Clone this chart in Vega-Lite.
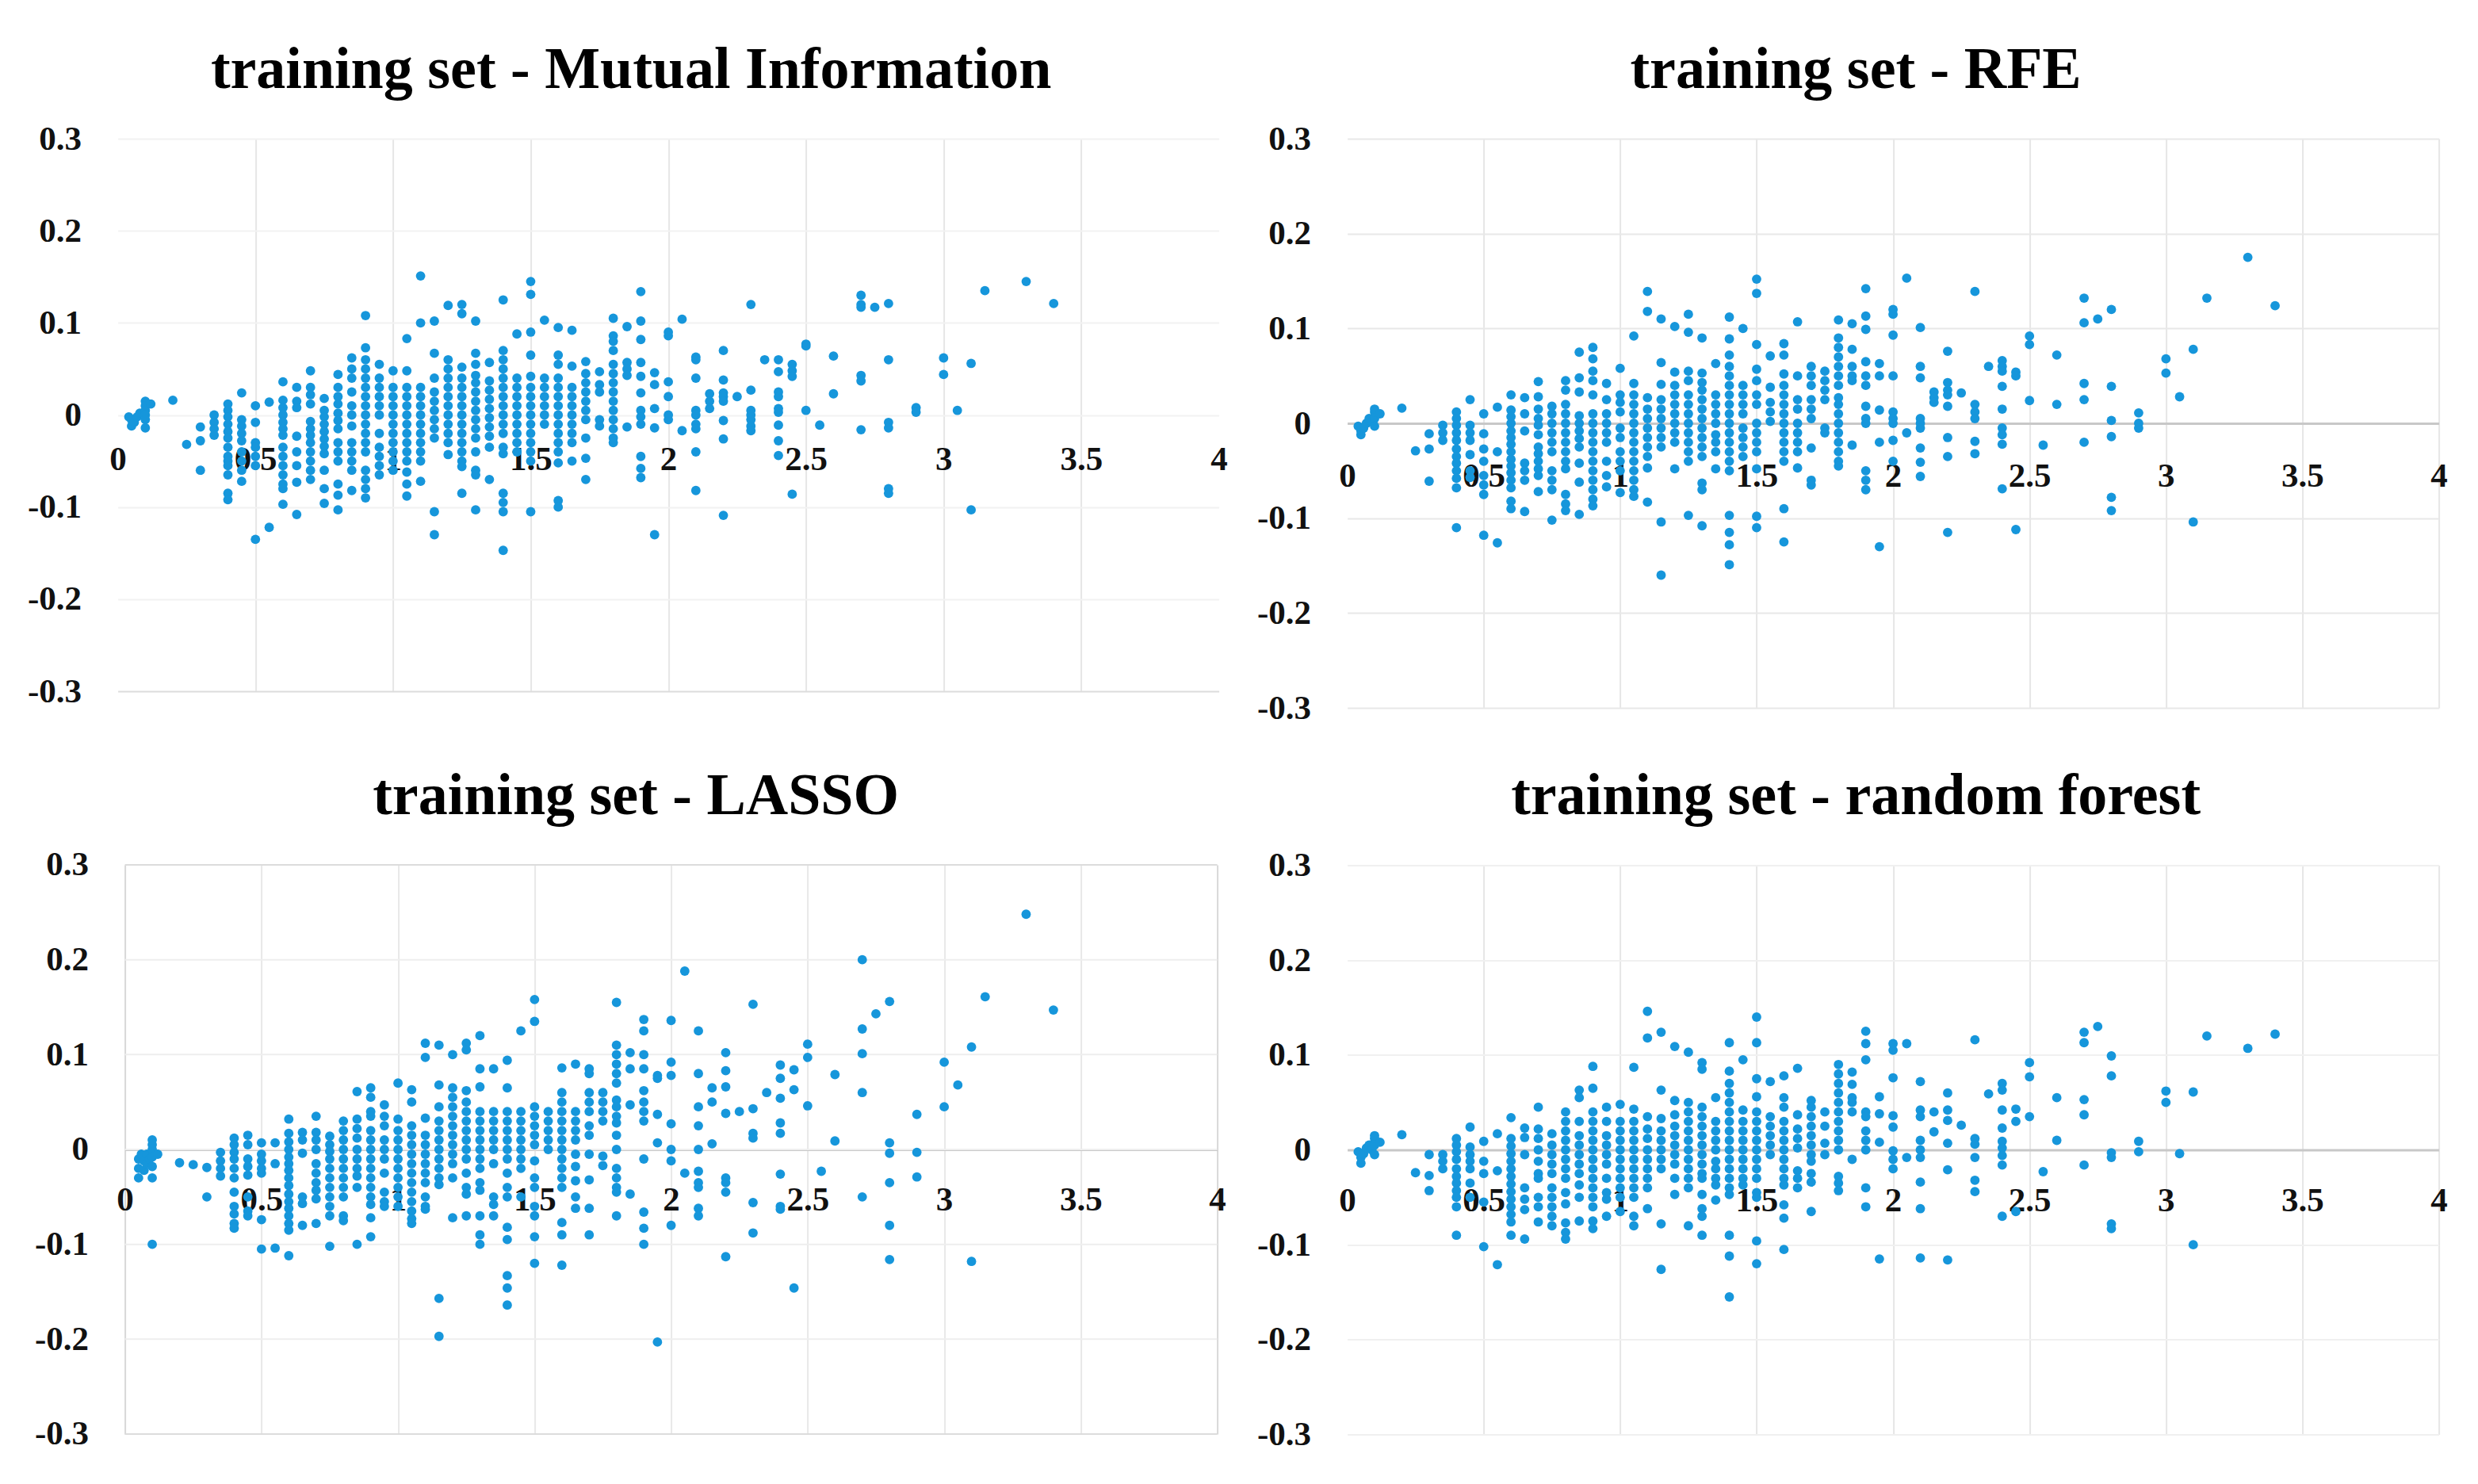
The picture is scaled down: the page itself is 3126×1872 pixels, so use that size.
{"$schema":"https://vega.github.io/schema/vega-lite/v6.json","padding":{"left":33.6,"top":52,"right":0,"bottom":0},"background":"white","spacing":36,"config":{"font":"Liberation Serif","title":{"font":"Liberation Serif","fontWeight":"bold","fontSize":74,"color":"#000","offset":27,"baseline":"alphabetic","dx":-47,"anchor":"middle"},"axis":{"labelFont":"Liberation Serif","labelFontWeight":"bold","labelFontSize":43,"labelColor":"#111","ticks":false,"title":null,"gridColor":"#e8e8e8","gridWidth":2,"labelFlush":false,"labelOverlap":false,"labelExpr":"datum.value<0 ? '-'+format(-datum.value,'~g') : format(datum.value,'~g')"}},
"datasets":{
"levels":[{"y":-0.3},{"y":-0.2},{"y":-0.1},{"y":0},{"y":0.1},{"y":0.2},{"y":0.3}],
"mi":[{"x":0.04,"y":-0.002},{"x":0.05,"y":-0.005},{"x":0.05,"y":-0.012},{"x":0.06,"y":-0.008},{"x":0.07,"y":-0.002},{"x":0.08,"y":0.002},{"x":0.1,"y":0.015},{"x":0.1,"y":0.01},{"x":0.1,"y":0.005},{"x":0.1,"y":0},{"x":0.1,"y":-0.005},{"x":0.1,"y":-0.014},{"x":0.12,"y":0.012},{"x":0.2,"y":0.016},{"x":0.25,"y":-0.032},{"x":0.3,"y":-0.013},{"x":0.3,"y":-0.028},{"x":0.3,"y":-0.06},{"x":0.35,"y":0},{"x":0.35,"y":-0.008},{"x":0.35,"y":-0.015},{"x":0.35,"y":-0.022},
{"x":0.4,"y":0.012},{"x":0.4,"y":0.005},{"x":0.4,"y":-0.002},{"x":0.4,"y":-0.01},{"x":0.4,"y":-0.018},{"x":0.4,"y":-0.025},{"x":0.4,"y":-0.035},{"x":0.4,"y":-0.045},{"x":0.4,"y":-0.05},{"x":0.4,"y":-0.055},{"x":0.4,"y":-0.065},{"x":0.4,"y":-0.085},{"x":0.4,"y":-0.092},
{"x":0.45,"y":0.024},{"x":0.45,"y":-0.005},{"x":0.45,"y":-0.012},{"x":0.45,"y":-0.02},{"x":0.45,"y":-0.028},{"x":0.45,"y":-0.04},{"x":0.45,"y":-0.05},{"x":0.45,"y":-0.06},{"x":0.45,"y":-0.072},
{"x":0.5,"y":0.01},{"x":0.5,"y":-0.008},{"x":0.5,"y":-0.03},{"x":0.5,"y":-0.035},{"x":0.5,"y":-0.045},{"x":0.5,"y":-0.055},{"x":0.5,"y":-0.135},{"x":0.55,"y":0.014},{"x":0.55,"y":-0.122},
{"x":0.6,"y":0.036},{"x":0.6,"y":0.016},{"x":0.6,"y":0.008},{"x":0.6,"y":0},{"x":0.6,"y":-0.008},{"x":0.6,"y":-0.015},{"x":0.6,"y":-0.022},{"x":0.6,"y":-0.035},{"x":0.6,"y":-0.045},{"x":0.6,"y":-0.055},{"x":0.6,"y":-0.065},{"x":0.6,"y":-0.075},{"x":0.6,"y":-0.08},{"x":0.6,"y":-0.097},
{"x":0.65,"y":0.03},{"x":0.65,"y":0.015},{"x":0.65,"y":0.008},{"x":0.65,"y":-0.023},{"x":0.65,"y":-0.04},{"x":0.65,"y":-0.055},{"x":0.65,"y":-0.073},{"x":0.65,"y":-0.108},
{"x":0.7,"y":0.048},{"x":0.7,"y":0.03},{"x":0.7,"y":0.022},{"x":0.7,"y":0.012},{"x":0.7,"y":-0.007},{"x":0.7,"y":-0.015},{"x":0.7,"y":-0.022},{"x":0.7,"y":-0.03},{"x":0.7,"y":-0.04},{"x":0.7,"y":-0.05},{"x":0.7,"y":-0.06},{"x":0.7,"y":-0.07},
{"x":0.75,"y":0.018},{"x":0.75,"y":0.005},{"x":0.75,"y":-0.002},{"x":0.75,"y":-0.01},{"x":0.75,"y":-0.018},{"x":0.75,"y":-0.026},{"x":0.75,"y":-0.034},{"x":0.75,"y":-0.042},{"x":0.75,"y":-0.06},{"x":0.75,"y":-0.08},{"x":0.75,"y":-0.096},
{"x":0.8,"y":0.044},{"x":0.8,"y":0.03},{"x":0.8,"y":0.02},{"x":0.8,"y":0.012},{"x":0.8,"y":0.002},{"x":0.8,"y":-0.006},{"x":0.8,"y":-0.015},{"x":0.8,"y":-0.03},{"x":0.8,"y":-0.04},{"x":0.8,"y":-0.05},{"x":0.8,"y":-0.075},{"x":0.8,"y":-0.087},{"x":0.8,"y":-0.103},
{"x":0.85,"y":0.062},{"x":0.85,"y":0.05},{"x":0.85,"y":0.04},{"x":0.85,"y":0.025},{"x":0.85,"y":0.01},{"x":0.85,"y":0},{"x":0.85,"y":-0.012},{"x":0.85,"y":-0.03},{"x":0.85,"y":-0.04},{"x":0.85,"y":-0.05},{"x":0.85,"y":-0.06},{"x":0.85,"y":-0.082},
{"x":0.9,"y":0.108},{"x":0.9,"y":0.073},{"x":0.9,"y":0.06},{"x":0.9,"y":0.05},{"x":0.9,"y":0.04},{"x":0.9,"y":0.03},{"x":0.9,"y":0.02},{"x":0.9,"y":0.01},{"x":0.9,"y":0},{"x":0.9,"y":-0.01},{"x":0.9,"y":-0.02},{"x":0.9,"y":-0.03},{"x":0.9,"y":-0.04},{"x":0.9,"y":-0.06},{"x":0.9,"y":-0.07},{"x":0.9,"y":-0.08},{"x":0.9,"y":-0.09},
{"x":0.95,"y":0.055},{"x":0.95,"y":0.04},{"x":0.95,"y":0.03},{"x":0.95,"y":0.02},{"x":0.95,"y":0.01},{"x":0.95,"y":0},{"x":0.95,"y":-0.02},{"x":0.95,"y":-0.035},{"x":0.95,"y":-0.045},{"x":0.95,"y":-0.055},{"x":0.95,"y":-0.065},
{"x":1,"y":0.048},{"x":1,"y":0.03},{"x":1,"y":0.02},{"x":1,"y":0.01},{"x":1,"y":0},{"x":1,"y":-0.01},{"x":1,"y":-0.02},{"x":1,"y":-0.03},{"x":1,"y":-0.04},{"x":1,"y":-0.05},{"x":1,"y":-0.06},
{"x":1.05,"y":0.083},{"x":1.05,"y":0.048},{"x":1.05,"y":0.03},{"x":1.05,"y":0.02},{"x":1.05,"y":0.01},{"x":1.05,"y":0},{"x":1.05,"y":-0.01},{"x":1.05,"y":-0.02},{"x":1.05,"y":-0.03},{"x":1.05,"y":-0.04},{"x":1.05,"y":-0.05},{"x":1.05,"y":-0.062},{"x":1.05,"y":-0.075},{"x":1.05,"y":-0.088},
{"x":1.1,"y":0.151},{"x":1.1,"y":0.1},{"x":1.1,"y":0.03},{"x":1.1,"y":0.02},{"x":1.1,"y":0.01},{"x":1.1,"y":0},{"x":1.1,"y":-0.01},{"x":1.1,"y":-0.02},{"x":1.1,"y":-0.03},{"x":1.1,"y":-0.04},{"x":1.1,"y":-0.05},{"x":1.1,"y":-0.072},
{"x":1.15,"y":0.102},{"x":1.15,"y":0.067},{"x":1.15,"y":0.04},{"x":1.15,"y":0.025},{"x":1.15,"y":0.015},{"x":1.15,"y":0.005},{"x":1.15,"y":-0.005},{"x":1.15,"y":-0.015},{"x":1.15,"y":-0.025},{"x":1.15,"y":-0.105},{"x":1.15,"y":-0.13},
{"x":1.2,"y":0.119},{"x":1.2,"y":0.06},{"x":1.2,"y":0.05},{"x":1.2,"y":0.04},{"x":1.2,"y":0.03},{"x":1.2,"y":0.02},{"x":1.2,"y":0.01},{"x":1.2,"y":0},{"x":1.2,"y":-0.01},{"x":1.2,"y":-0.02},{"x":1.2,"y":-0.03},{"x":1.2,"y":-0.043},
{"x":1.25,"y":0.12},{"x":1.25,"y":0.11},{"x":1.25,"y":0.052},{"x":1.25,"y":0.04},{"x":1.25,"y":0.03},{"x":1.25,"y":0.02},{"x":1.25,"y":0.01},{"x":1.25,"y":0},{"x":1.25,"y":-0.01},{"x":1.25,"y":-0.02},{"x":1.25,"y":-0.03},{"x":1.25,"y":-0.04},{"x":1.25,"y":-0.05},{"x":1.25,"y":-0.056},{"x":1.25,"y":-0.085},
{"x":1.3,"y":0.102},{"x":1.3,"y":0.067},{"x":1.3,"y":0.055},{"x":1.3,"y":0.043},{"x":1.3,"y":0.035},{"x":1.3,"y":0.025},{"x":1.3,"y":0.015},{"x":1.3,"y":0.005},{"x":1.3,"y":-0.005},{"x":1.3,"y":-0.015},{"x":1.3,"y":-0.025},{"x":1.3,"y":-0.04},{"x":1.3,"y":-0.06},{"x":1.3,"y":-0.065},{"x":1.3,"y":-0.103},
{"x":1.35,"y":0.057},{"x":1.35,"y":0.037},{"x":1.35,"y":0.027},{"x":1.35,"y":0.017},{"x":1.35,"y":0.007},{"x":1.35,"y":-0.003},{"x":1.35,"y":-0.013},{"x":1.35,"y":-0.023},{"x":1.35,"y":-0.035},{"x":1.35,"y":-0.07},
{"x":1.4,"y":0.125},{"x":1.4,"y":0.07},{"x":1.4,"y":0.06},{"x":1.4,"y":0.05},{"x":1.4,"y":0.04},{"x":1.4,"y":0.03},{"x":1.4,"y":0.02},{"x":1.4,"y":0.01},{"x":1.4,"y":0},{"x":1.4,"y":-0.01},{"x":1.4,"y":-0.02},{"x":1.4,"y":-0.035},{"x":1.4,"y":-0.042},{"x":1.4,"y":-0.085},{"x":1.4,"y":-0.095},{"x":1.4,"y":-0.105},{"x":1.4,"y":-0.147},
{"x":1.45,"y":0.088},{"x":1.45,"y":0.04},{"x":1.45,"y":0.03},{"x":1.45,"y":0.02},{"x":1.45,"y":0.01},{"x":1.45,"y":0},{"x":1.45,"y":-0.01},{"x":1.45,"y":-0.02},{"x":1.45,"y":-0.03},{"x":1.45,"y":-0.04},
{"x":1.5,"y":0.145},{"x":1.5,"y":0.131},{"x":1.5,"y":0.09},{"x":1.5,"y":0.065},{"x":1.5,"y":0.042},{"x":1.5,"y":0.03},{"x":1.5,"y":0.02},{"x":1.5,"y":0.01},{"x":1.5,"y":0},{"x":1.5,"y":-0.01},{"x":1.5,"y":-0.02},{"x":1.5,"y":-0.03},{"x":1.5,"y":-0.04},{"x":1.5,"y":-0.05},{"x":1.5,"y":-0.105},
{"x":1.55,"y":0.103},{"x":1.55,"y":0.04},{"x":1.55,"y":0.03},{"x":1.55,"y":0.02},{"x":1.55,"y":0.01},{"x":1.55,"y":0},{"x":1.55,"y":-0.01},
{"x":1.6,"y":0.095},{"x":1.6,"y":0.065},{"x":1.6,"y":0.055},{"x":1.6,"y":0.04},{"x":1.6,"y":0.03},{"x":1.6,"y":0.02},{"x":1.6,"y":0.01},{"x":1.6,"y":0},{"x":1.6,"y":-0.01},{"x":1.6,"y":-0.02},{"x":1.6,"y":-0.03},{"x":1.6,"y":-0.04},{"x":1.6,"y":-0.052},{"x":1.6,"y":-0.093},{"x":1.6,"y":-0.1},
{"x":1.65,"y":0.092},{"x":1.65,"y":0.053},{"x":1.65,"y":0.03},{"x":1.65,"y":0.02},{"x":1.65,"y":0.01},{"x":1.65,"y":0},{"x":1.65,"y":-0.01},{"x":1.65,"y":-0.02},{"x":1.65,"y":-0.03},{"x":1.65,"y":-0.05},
{"x":1.7,"y":0.058},{"x":1.7,"y":0.045},{"x":1.7,"y":0.035},{"x":1.7,"y":0.025},{"x":1.7,"y":0.015},{"x":1.7,"y":0.005},{"x":1.7,"y":-0.005},{"x":1.7,"y":-0.025},{"x":1.7,"y":-0.047},{"x":1.7,"y":-0.07},
{"x":1.75,"y":0.047},{"x":1.75,"y":0.033},{"x":1.75,"y":0.025},{"x":1.75,"y":-0.005},{"x":1.75,"y":-0.012},
{"x":1.8,"y":0.105},{"x":1.8,"y":0.086},{"x":1.8,"y":0.08},{"x":1.8,"y":0.07},{"x":1.8,"y":0.055},{"x":1.8,"y":0.045},{"x":1.8,"y":0.035},{"x":1.8,"y":0.025},{"x":1.8,"y":0.015},{"x":1.8,"y":0.005},{"x":1.8,"y":-0.005},{"x":1.8,"y":-0.015},{"x":1.8,"y":-0.025},{"x":1.8,"y":-0.03},
{"x":1.85,"y":0.096},{"x":1.85,"y":0.057},{"x":1.85,"y":0.05},{"x":1.85,"y":0.043},{"x":1.85,"y":-0.013},
{"x":1.9,"y":0.134},{"x":1.9,"y":0.102},{"x":1.9,"y":0.082},{"x":1.9,"y":0.057},{"x":1.9,"y":0.042},{"x":1.9,"y":0.024},{"x":1.9,"y":0.005},{"x":1.9,"y":-0.002},{"x":1.9,"y":-0.01},{"x":1.9,"y":-0.045},{"x":1.9,"y":-0.058},{"x":1.9,"y":-0.068},
{"x":1.95,"y":0.046},{"x":1.95,"y":0.033},{"x":1.95,"y":0.007},{"x":1.95,"y":-0.014},{"x":1.95,"y":-0.13},{"x":2,"y":0.09},{"x":2,"y":0.086},{"x":2,"y":0.036},{"x":2,"y":0.02},{"x":2,"y":0},{"x":2,"y":-0.005},{"x":2.05,"y":0.104},{"x":2.05,"y":-0.017},
{"x":2.1,"y":0.063},{"x":2.1,"y":0.06},{"x":2.1,"y":0.04},{"x":2.1,"y":0.005},{"x":2.1,"y":0},{"x":2.1,"y":-0.01},{"x":2.1,"y":-0.015},{"x":2.1,"y":-0.04},{"x":2.1,"y":-0.082},{"x":2.15,"y":0.023},{"x":2.15,"y":0.015},{"x":2.15,"y":0.007},
{"x":2.2,"y":0.07},{"x":2.2,"y":0.038},{"x":2.2,"y":0.024},{"x":2.2,"y":0.02},{"x":2.2,"y":0.015},{"x":2.2,"y":-0.006},{"x":2.2,"y":-0.026},{"x":2.2,"y":-0.109},{"x":2.25,"y":0.02},
{"x":2.3,"y":0.12},{"x":2.3,"y":0.027},{"x":2.3,"y":0.005},{"x":2.3,"y":0},{"x":2.3,"y":-0.005},{"x":2.3,"y":-0.012},{"x":2.3,"y":-0.017},{"x":2.35,"y":0.06},
{"x":2.4,"y":0.06},{"x":2.4,"y":0.047},{"x":2.4,"y":0.025},{"x":2.4,"y":0.02},{"x":2.4,"y":0.007},{"x":2.4,"y":0.003},{"x":2.4,"y":-0.011},{"x":2.4,"y":-0.028},{"x":2.4,"y":-0.044},
{"x":2.45,"y":0.055},{"x":2.45,"y":0.048},{"x":2.45,"y":0.042},{"x":2.45,"y":-0.086},{"x":2.5,"y":0.077},{"x":2.5,"y":0.075},{"x":2.5,"y":0.005},{"x":2.55,"y":-0.011},{"x":2.6,"y":0.064},{"x":2.6,"y":0.023},
{"x":2.7,"y":0.13},{"x":2.7,"y":0.12},{"x":2.7,"y":0.117},{"x":2.7,"y":0.043},{"x":2.7,"y":0.037},{"x":2.7,"y":-0.016},{"x":2.75,"y":0.117},{"x":2.8,"y":0.121},{"x":2.8,"y":0.06},{"x":2.8,"y":-0.008},{"x":2.8,"y":-0.014},{"x":2.8,"y":-0.08},{"x":2.8,"y":-0.085},{"x":2.9,"y":0.008},{"x":2.9,"y":0.003},{"x":3,"y":0.062},{"x":3,"y":0.044},{"x":3.05,"y":0.005},{"x":3.1,"y":0.056},{"x":3.1,"y":-0.103},{"x":3.15,"y":0.135},{"x":3.3,"y":0.145},{"x":3.4,"y":0.121}],
"rfe":[{"x":0.04,"y":-0.003},{"x":0.05,"y":-0.008},{"x":0.05,"y":-0.012},{"x":0.06,"y":-0.005},{"x":0.07,"y":0},{"x":0.08,"y":0.005},{"x":0.09,"y":0.002},{"x":0.1,"y":0.005},{"x":0.1,"y":0.012},{"x":0.1,"y":0.015},{"x":0.12,"y":0.01},{"x":0.1,"y":-0.003},{"x":0.2,"y":0.016},{"x":0.25,"y":-0.029},{"x":0.3,"y":-0.011},{"x":0.3,"y":-0.027},{"x":0.3,"y":-0.061},{"x":0.35,"y":-0.002},{"x":0.35,"y":-0.01},{"x":0.35,"y":-0.018},
{"x":0.4,"y":0.012},{"x":0.4,"y":0.005},{"x":0.4,"y":-0.002},{"x":0.4,"y":-0.01},{"x":0.4,"y":-0.018},{"x":0.4,"y":-0.027},{"x":0.4,"y":-0.035},{"x":0.4,"y":-0.042},{"x":0.4,"y":-0.05},{"x":0.4,"y":-0.058},{"x":0.4,"y":-0.068},{"x":0.4,"y":-0.11},
{"x":0.45,"y":0.025},{"x":0.45,"y":-0.002},{"x":0.45,"y":-0.01},{"x":0.45,"y":-0.018},{"x":0.45,"y":-0.033},{"x":0.45,"y":-0.05},{"x":0.45,"y":-0.057},
{"x":0.5,"y":0.01},{"x":0.5,"y":-0.011},{"x":0.5,"y":-0.027},{"x":0.5,"y":-0.04},{"x":0.5,"y":-0.055},{"x":0.5,"y":-0.065},{"x":0.5,"y":-0.075},{"x":0.5,"y":-0.118},{"x":0.55,"y":0.017},{"x":0.55,"y":-0.03},{"x":0.55,"y":-0.126},
{"x":0.6,"y":0.03},{"x":0.6,"y":0.014},{"x":0.6,"y":0.007},{"x":0.6,"y":0},{"x":0.6,"y":-0.008},{"x":0.6,"y":-0.015},{"x":0.6,"y":-0.022},{"x":0.6,"y":-0.03},{"x":0.6,"y":-0.038},{"x":0.6,"y":-0.045},{"x":0.6,"y":-0.052},{"x":0.6,"y":-0.06},{"x":0.6,"y":-0.068},{"x":0.6,"y":-0.082},{"x":0.6,"y":-0.09},
{"x":0.65,"y":0.027},{"x":0.65,"y":0.01},{"x":0.65,"y":-0.008},{"x":0.65,"y":-0.042},{"x":0.65,"y":-0.05},{"x":0.65,"y":-0.06},{"x":0.65,"y":-0.093},
{"x":0.7,"y":0.044},{"x":0.7,"y":0.028},{"x":0.7,"y":0.015},{"x":0.7,"y":0.005},{"x":0.7,"y":-0.002},{"x":0.7,"y":-0.012},{"x":0.7,"y":-0.025},{"x":0.7,"y":-0.032},{"x":0.7,"y":-0.04},{"x":0.7,"y":-0.048},{"x":0.7,"y":-0.055},{"x":0.7,"y":-0.072},
{"x":0.75,"y":0.018},{"x":0.75,"y":0.01},{"x":0.75,"y":0},{"x":0.75,"y":-0.01},{"x":0.75,"y":-0.02},{"x":0.75,"y":-0.03},{"x":0.75,"y":-0.05},{"x":0.75,"y":-0.06},{"x":0.75,"y":-0.07},{"x":0.75,"y":-0.102},
{"x":0.8,"y":0.045},{"x":0.8,"y":0.035},{"x":0.8,"y":0.02},{"x":0.8,"y":0.01},{"x":0.8,"y":0},{"x":0.8,"y":-0.01},{"x":0.8,"y":-0.02},{"x":0.8,"y":-0.03},{"x":0.8,"y":-0.04},{"x":0.8,"y":-0.048},{"x":0.8,"y":-0.075},{"x":0.8,"y":-0.085},{"x":0.8,"y":-0.092},
{"x":0.85,"y":0.075},{"x":0.85,"y":0.048},{"x":0.85,"y":0.033},{"x":0.85,"y":0.008},{"x":0.85,"y":0},{"x":0.85,"y":-0.008},{"x":0.85,"y":-0.016},{"x":0.85,"y":-0.025},{"x":0.85,"y":-0.042},{"x":0.85,"y":-0.062},{"x":0.85,"y":-0.096},
{"x":0.9,"y":0.08},{"x":0.9,"y":0.068},{"x":0.9,"y":0.055},{"x":0.9,"y":0.045},{"x":0.9,"y":0.03},{"x":0.9,"y":0.01},{"x":0.9,"y":0},{"x":0.9,"y":-0.01},{"x":0.9,"y":-0.02},{"x":0.9,"y":-0.03},{"x":0.9,"y":-0.04},{"x":0.9,"y":-0.05},{"x":0.9,"y":-0.06},{"x":0.9,"y":-0.07},{"x":0.9,"y":-0.08},{"x":0.9,"y":-0.087},
{"x":0.95,"y":0.042},{"x":0.95,"y":0.025},{"x":0.95,"y":0.01},{"x":0.95,"y":0},{"x":0.95,"y":-0.01},{"x":0.95,"y":-0.02},{"x":0.95,"y":-0.04},{"x":0.95,"y":-0.055},{"x":0.95,"y":-0.067},
{"x":1,"y":0.058},{"x":1,"y":0.03},{"x":1,"y":0.022},{"x":1,"y":0.012},{"x":1,"y":-0.005},{"x":1,"y":-0.015},{"x":1,"y":-0.03},{"x":1,"y":-0.04},{"x":1,"y":-0.05},{"x":1,"y":-0.073},
{"x":1.05,"y":0.092},{"x":1.05,"y":0.042},{"x":1.05,"y":0.03},{"x":1.05,"y":0.02},{"x":1.05,"y":0.01},{"x":1.05,"y":0},{"x":1.05,"y":-0.01},{"x":1.05,"y":-0.02},{"x":1.05,"y":-0.03},{"x":1.05,"y":-0.04},{"x":1.05,"y":-0.05},{"x":1.05,"y":-0.06},{"x":1.05,"y":-0.07},{"x":1.05,"y":-0.077},
{"x":1.1,"y":0.139},{"x":1.1,"y":0.118},{"x":1.1,"y":0.027},{"x":1.1,"y":0.015},{"x":1.1,"y":0.005},{"x":1.1,"y":-0.005},{"x":1.1,"y":-0.015},{"x":1.1,"y":-0.025},{"x":1.1,"y":-0.035},{"x":1.1,"y":-0.047},{"x":1.1,"y":-0.083},
{"x":1.15,"y":0.11},{"x":1.15,"y":0.064},{"x":1.15,"y":0.041},{"x":1.15,"y":0.025},{"x":1.15,"y":0.015},{"x":1.15,"y":0.005},{"x":1.15,"y":-0.005},{"x":1.15,"y":-0.015},{"x":1.15,"y":-0.025},{"x":1.15,"y":-0.104},{"x":1.15,"y":-0.16},
{"x":1.2,"y":0.102},{"x":1.2,"y":0.054},{"x":1.2,"y":0.04},{"x":1.2,"y":0.03},{"x":1.2,"y":0.02},{"x":1.2,"y":0.01},{"x":1.2,"y":0},{"x":1.2,"y":-0.01},{"x":1.2,"y":-0.02},{"x":1.2,"y":-0.048},
{"x":1.25,"y":0.115},{"x":1.25,"y":0.096},{"x":1.25,"y":0.055},{"x":1.25,"y":0.045},{"x":1.25,"y":0.03},{"x":1.25,"y":0.02},{"x":1.25,"y":0.01},{"x":1.25,"y":0},{"x":1.25,"y":-0.01},{"x":1.25,"y":-0.02},{"x":1.25,"y":-0.03},{"x":1.25,"y":-0.04},{"x":1.25,"y":-0.097},
{"x":1.3,"y":0.09},{"x":1.3,"y":0.053},{"x":1.3,"y":0.043},{"x":1.3,"y":0.035},{"x":1.3,"y":0.025},{"x":1.3,"y":0.015},{"x":1.3,"y":0.005},{"x":1.3,"y":-0.005},{"x":1.3,"y":-0.015},{"x":1.3,"y":-0.025},{"x":1.3,"y":-0.035},{"x":1.3,"y":-0.063},{"x":1.3,"y":-0.07},{"x":1.3,"y":-0.108},
{"x":1.35,"y":0.063},{"x":1.35,"y":0.03},{"x":1.35,"y":0.02},{"x":1.35,"y":0.01},{"x":1.35,"y":0},{"x":1.35,"y":-0.012},{"x":1.35,"y":-0.02},{"x":1.35,"y":-0.03},{"x":1.35,"y":-0.048},
{"x":1.4,"y":0.112},{"x":1.4,"y":0.089},{"x":1.4,"y":0.072},{"x":1.4,"y":0.06},{"x":1.4,"y":0.05},{"x":1.4,"y":0.04},{"x":1.4,"y":0.03},{"x":1.4,"y":0.02},{"x":1.4,"y":0.01},{"x":1.4,"y":0},{"x":1.4,"y":-0.01},{"x":1.4,"y":-0.02},{"x":1.4,"y":-0.03},{"x":1.4,"y":-0.04},{"x":1.4,"y":-0.05},{"x":1.4,"y":-0.097},{"x":1.4,"y":-0.115},{"x":1.4,"y":-0.128},{"x":1.4,"y":-0.149},
{"x":1.45,"y":0.1},{"x":1.45,"y":0.04},{"x":1.45,"y":0.03},{"x":1.45,"y":0.02},{"x":1.45,"y":0.01},{"x":1.45,"y":-0.005},{"x":1.45,"y":-0.015},{"x":1.45,"y":-0.025},{"x":1.45,"y":-0.035},
{"x":1.5,"y":0.152},{"x":1.5,"y":0.137},{"x":1.5,"y":0.083},{"x":1.5,"y":0.057},{"x":1.5,"y":0.045},{"x":1.5,"y":0.03},{"x":1.5,"y":0.02},{"x":1.5,"y":0},{"x":1.5,"y":-0.01},{"x":1.5,"y":-0.02},{"x":1.5,"y":-0.03},{"x":1.5,"y":-0.048},{"x":1.5,"y":-0.098},{"x":1.5,"y":-0.11},
{"x":1.55,"y":0.071},{"x":1.55,"y":0.038},{"x":1.55,"y":0.022},{"x":1.55,"y":0.012},{"x":1.55,"y":0.002},
{"x":1.6,"y":0.084},{"x":1.6,"y":0.072},{"x":1.6,"y":0.052},{"x":1.6,"y":0.04},{"x":1.6,"y":0.03},{"x":1.6,"y":0.02},{"x":1.6,"y":0.01},{"x":1.6,"y":0},{"x":1.6,"y":-0.01},{"x":1.6,"y":-0.02},{"x":1.6,"y":-0.03},{"x":1.6,"y":-0.04},{"x":1.6,"y":-0.09},{"x":1.6,"y":-0.125},
{"x":1.65,"y":0.107},{"x":1.65,"y":0.05},{"x":1.65,"y":0.025},{"x":1.65,"y":0.015},{"x":1.65,"y":0},{"x":1.65,"y":-0.01},{"x":1.65,"y":-0.02},{"x":1.65,"y":-0.03},{"x":1.65,"y":-0.047},
{"x":1.7,"y":0.06},{"x":1.7,"y":0.05},{"x":1.7,"y":0.04},{"x":1.7,"y":0.025},{"x":1.7,"y":0.015},{"x":1.7,"y":0.005},{"x":1.7,"y":-0.026},{"x":1.7,"y":-0.06},{"x":1.7,"y":-0.065},
{"x":1.75,"y":0.055},{"x":1.75,"y":0.045},{"x":1.75,"y":0.035},{"x":1.75,"y":0.025},{"x":1.75,"y":-0.005},{"x":1.75,"y":-0.01},
{"x":1.8,"y":0.109},{"x":1.8,"y":0.09},{"x":1.8,"y":0.08},{"x":1.8,"y":0.07},{"x":1.8,"y":0.06},{"x":1.8,"y":0.05},{"x":1.8,"y":0.04},{"x":1.8,"y":0.027},{"x":1.8,"y":0.02},{"x":1.8,"y":0.01},{"x":1.8,"y":0},{"x":1.8,"y":-0.01},{"x":1.8,"y":-0.02},{"x":1.8,"y":-0.03},{"x":1.8,"y":-0.04},{"x":1.8,"y":-0.045},
{"x":1.85,"y":0.105},{"x":1.85,"y":0.078},{"x":1.85,"y":0.06},{"x":1.85,"y":0.05},{"x":1.85,"y":0.045},{"x":1.85,"y":-0.023},
{"x":1.9,"y":0.142},{"x":1.9,"y":0.113},{"x":1.9,"y":0.099},{"x":1.9,"y":0.065},{"x":1.9,"y":0.05},{"x":1.9,"y":0.04},{"x":1.9,"y":0.018},{"x":1.9,"y":0.005},{"x":1.9,"y":0},{"x":1.9,"y":-0.05},{"x":1.9,"y":-0.06},{"x":1.9,"y":-0.07},
{"x":1.95,"y":0.063},{"x":1.95,"y":0.05},{"x":1.95,"y":0.014},{"x":1.95,"y":-0.02},{"x":1.95,"y":-0.13},{"x":2,"y":0.12},{"x":2,"y":0.115},{"x":2,"y":0.093},{"x":2,"y":0.05},{"x":2,"y":0.012},{"x":2,"y":0.005},{"x":2,"y":0},{"x":2,"y":-0.018},{"x":2,"y":-0.04},{"x":2.05,"y":0.153},{"x":2.05,"y":-0.01},
{"x":2.1,"y":0.101},{"x":2.1,"y":0.06},{"x":2.1,"y":0.048},{"x":2.1,"y":0.005},{"x":2.1,"y":0},{"x":2.1,"y":-0.005},{"x":2.1,"y":-0.026},{"x":2.1,"y":-0.041},{"x":2.1,"y":-0.056},{"x":2.15,"y":0.033},{"x":2.15,"y":0.027},{"x":2.15,"y":0.022},
{"x":2.2,"y":0.076},{"x":2.2,"y":0.043},{"x":2.2,"y":0.035},{"x":2.2,"y":0.03},{"x":2.2,"y":0.018},{"x":2.2,"y":-0.015},{"x":2.2,"y":-0.035},{"x":2.2,"y":-0.115},{"x":2.25,"y":0.032},
{"x":2.3,"y":0.139},{"x":2.3,"y":0.02},{"x":2.3,"y":0.012},{"x":2.3,"y":0.005},{"x":2.3,"y":-0.019},{"x":2.3,"y":-0.032},{"x":2.35,"y":0.06},
{"x":2.4,"y":0.066},{"x":2.4,"y":0.06},{"x":2.4,"y":0.055},{"x":2.4,"y":0.039},{"x":2.4,"y":0.015},{"x":2.4,"y":-0.005},{"x":2.4,"y":-0.012},{"x":2.4,"y":-0.022},{"x":2.4,"y":-0.069},
{"x":2.45,"y":0.054},{"x":2.45,"y":0.05},{"x":2.45,"y":-0.112},{"x":2.5,"y":0.092},{"x":2.5,"y":0.083},{"x":2.5,"y":0.024},{"x":2.55,"y":-0.023},{"x":2.6,"y":0.072},{"x":2.6,"y":0.02},
{"x":2.7,"y":0.132},{"x":2.7,"y":0.106},{"x":2.7,"y":0.042},{"x":2.7,"y":0.025},{"x":2.7,"y":-0.02},{"x":2.75,"y":0.11},{"x":2.8,"y":0.12},{"x":2.8,"y":0.039},{"x":2.8,"y":0.003},{"x":2.8,"y":-0.014},{"x":2.8,"y":-0.078},{"x":2.8,"y":-0.092},{"x":2.9,"y":0.011},{"x":2.9,"y":0},{"x":2.9,"y":-0.005},{"x":3,"y":0.068},{"x":3,"y":0.053},{"x":3.05,"y":0.028},{"x":3.1,"y":0.078},{"x":3.1,"y":-0.104},{"x":3.15,"y":0.132},{"x":3.3,"y":0.175},{"x":3.4,"y":0.124}],
"lasso":[{"x":0.05,"y":-0.01},{"x":0.05,"y":-0.02},{"x":0.05,"y":-0.03},{"x":0.06,"y":-0.005},{"x":0.07,"y":-0.012},{"x":0.07,"y":-0.022},{"x":0.08,"y":-0.005},{"x":0.08,"y":-0.015},{"x":0.09,"y":-0.01},{"x":0.1,"y":0},{"x":0.1,"y":-0.008},{"x":0.1,"y":-0.018},{"x":0.1,"y":0.005},{"x":0.1,"y":0.01},{"x":0.1,"y":-0.03},{"x":0.12,"y":-0.005},{"x":0.1,"y":-0.1},{"x":0.2,"y":-0.014},{"x":0.25,"y":-0.016},{"x":0.3,"y":-0.019},{"x":0.3,"y":-0.05},{"x":0.35,"y":-0.003},{"x":0.35,"y":-0.012},{"x":0.35,"y":-0.02},{"x":0.35,"y":-0.028},
{"x":0.4,"y":0.012},{"x":0.4,"y":0.005},{"x":0.4,"y":-0.003},{"x":0.4,"y":-0.01},{"x":0.4,"y":-0.02},{"x":0.4,"y":-0.03},{"x":0.4,"y":-0.045},{"x":0.4,"y":-0.06},{"x":0.4,"y":-0.068},{"x":0.4,"y":-0.078},{"x":0.4,"y":-0.083},
{"x":0.45,"y":0.015},{"x":0.45,"y":0.005},{"x":0.45,"y":-0.01},{"x":0.45,"y":-0.018},{"x":0.45,"y":-0.027},{"x":0.45,"y":-0.05},{"x":0.45,"y":-0.065},{"x":0.45,"y":-0.07},
{"x":0.5,"y":0.007},{"x":0.5,"y":-0.005},{"x":0.5,"y":-0.012},{"x":0.5,"y":-0.02},{"x":0.5,"y":-0.025},{"x":0.5,"y":-0.074},{"x":0.5,"y":-0.105},{"x":0.55,"y":0.007},{"x":0.55,"y":-0.015},{"x":0.55,"y":-0.104},
{"x":0.6,"y":0.032},{"x":0.6,"y":0.017},{"x":0.6,"y":0.008},{"x":0.6,"y":0},{"x":0.6,"y":-0.008},{"x":0.6,"y":-0.015},{"x":0.6,"y":-0.022},{"x":0.6,"y":-0.03},{"x":0.6,"y":-0.038},{"x":0.6,"y":-0.047},{"x":0.6,"y":-0.055},{"x":0.6,"y":-0.062},{"x":0.6,"y":-0.07},{"x":0.6,"y":-0.078},{"x":0.6,"y":-0.085},{"x":0.6,"y":-0.112},
{"x":0.65,"y":0.018},{"x":0.65,"y":0.01},{"x":0.65,"y":-0.004},{"x":0.65,"y":-0.05},{"x":0.65,"y":-0.057},{"x":0.65,"y":-0.08},
{"x":0.7,"y":0.035},{"x":0.7,"y":0.018},{"x":0.7,"y":0.01},{"x":0.7,"y":0},{"x":0.7,"y":-0.015},{"x":0.7,"y":-0.025},{"x":0.7,"y":-0.035},{"x":0.7,"y":-0.043},{"x":0.7,"y":-0.052},{"x":0.7,"y":-0.078},
{"x":0.75,"y":0.014},{"x":0.75,"y":0.005},{"x":0.75,"y":-0.002},{"x":0.75,"y":-0.01},{"x":0.75,"y":-0.02},{"x":0.75,"y":-0.03},{"x":0.75,"y":-0.04},{"x":0.75,"y":-0.05},{"x":0.75,"y":-0.06},{"x":0.75,"y":-0.07},{"x":0.75,"y":-0.102},
{"x":0.8,"y":0.03},{"x":0.8,"y":0.02},{"x":0.8,"y":0.01},{"x":0.8,"y":0},{"x":0.8,"y":-0.01},{"x":0.8,"y":-0.02},{"x":0.8,"y":-0.03},{"x":0.8,"y":-0.04},{"x":0.8,"y":-0.05},{"x":0.8,"y":-0.07},{"x":0.8,"y":-0.075},
{"x":0.85,"y":0.061},{"x":0.85,"y":0.032},{"x":0.85,"y":0.022},{"x":0.85,"y":0.012},{"x":0.85,"y":0},{"x":0.85,"y":-0.01},{"x":0.85,"y":-0.02},{"x":0.85,"y":-0.028},{"x":0.85,"y":-0.04},{"x":0.85,"y":-0.1},
{"x":0.9,"y":0.065},{"x":0.9,"y":0.055},{"x":0.9,"y":0.04},{"x":0.9,"y":0.035},{"x":0.9,"y":0.02},{"x":0.9,"y":0.01},{"x":0.9,"y":0},{"x":0.9,"y":-0.01},{"x":0.9,"y":-0.02},{"x":0.9,"y":-0.03},{"x":0.9,"y":-0.04},{"x":0.9,"y":-0.05},{"x":0.9,"y":-0.058},{"x":0.9,"y":-0.072},{"x":0.9,"y":-0.092},
{"x":0.95,"y":0.047},{"x":0.95,"y":0.035},{"x":0.95,"y":0.025},{"x":0.95,"y":0.01},{"x":0.95,"y":0},{"x":0.95,"y":-0.01},{"x":0.95,"y":-0.025},{"x":0.95,"y":-0.045},{"x":0.95,"y":-0.055},{"x":0.95,"y":-0.06},
{"x":1,"y":0.07},{"x":1,"y":0.032},{"x":1,"y":0.02},{"x":1,"y":0.01},{"x":1,"y":0},{"x":1,"y":-0.01},{"x":1,"y":-0.02},{"x":1,"y":-0.03},{"x":1,"y":-0.04},{"x":1,"y":-0.05},{"x":1,"y":-0.06},
{"x":1.05,"y":0.063},{"x":1.05,"y":0.05},{"x":1.05,"y":0.025},{"x":1.05,"y":0.015},{"x":1.05,"y":0.005},{"x":1.05,"y":-0.005},{"x":1.05,"y":-0.015},{"x":1.05,"y":-0.025},{"x":1.05,"y":-0.035},{"x":1.05,"y":-0.045},{"x":1.05,"y":-0.055},{"x":1.05,"y":-0.065},{"x":1.05,"y":-0.073},{"x":1.05,"y":-0.078},
{"x":1.1,"y":0.112},{"x":1.1,"y":0.097},{"x":1.1,"y":0.033},{"x":1.1,"y":0.015},{"x":1.1,"y":0.005},{"x":1.1,"y":-0.005},{"x":1.1,"y":-0.015},{"x":1.1,"y":-0.025},{"x":1.1,"y":-0.035},{"x":1.1,"y":-0.05},{"x":1.1,"y":-0.06},{"x":1.1,"y":-0.063},
{"x":1.15,"y":0.11},{"x":1.15,"y":0.068},{"x":1.15,"y":0.045},{"x":1.15,"y":0.03},{"x":1.15,"y":0.02},{"x":1.15,"y":0.01},{"x":1.15,"y":0},{"x":1.15,"y":-0.01},{"x":1.15,"y":-0.02},{"x":1.15,"y":-0.03},{"x":1.15,"y":-0.037},{"x":1.15,"y":-0.157},{"x":1.15,"y":-0.197},
{"x":1.2,"y":0.1},{"x":1.2,"y":0.065},{"x":1.2,"y":0.055},{"x":1.2,"y":0.045},{"x":1.2,"y":0.035},{"x":1.2,"y":0.025},{"x":1.2,"y":0.015},{"x":1.2,"y":0.005},{"x":1.2,"y":-0.005},{"x":1.2,"y":-0.015},{"x":1.2,"y":-0.03},{"x":1.2,"y":-0.072},
{"x":1.25,"y":0.112},{"x":1.25,"y":0.105},{"x":1.25,"y":0.062},{"x":1.25,"y":0.05},{"x":1.25,"y":0.04},{"x":1.25,"y":0.03},{"x":1.25,"y":0.02},{"x":1.25,"y":0.01},{"x":1.25,"y":0},{"x":1.25,"y":-0.01},{"x":1.25,"y":-0.025},{"x":1.25,"y":-0.04},{"x":1.25,"y":-0.047},{"x":1.25,"y":-0.07},
{"x":1.3,"y":0.12},{"x":1.3,"y":0.085},{"x":1.3,"y":0.066},{"x":1.3,"y":0.04},{"x":1.3,"y":0.03},{"x":1.3,"y":0.02},{"x":1.3,"y":0.01},{"x":1.3,"y":0},{"x":1.3,"y":-0.01},{"x":1.3,"y":-0.02},{"x":1.3,"y":-0.035},{"x":1.3,"y":-0.043},{"x":1.3,"y":-0.07},{"x":1.3,"y":-0.09},{"x":1.3,"y":-0.1},
{"x":1.35,"y":0.085},{"x":1.35,"y":0.04},{"x":1.35,"y":0.03},{"x":1.35,"y":0.02},{"x":1.35,"y":0.01},{"x":1.35,"y":0},{"x":1.35,"y":-0.015},{"x":1.35,"y":-0.05},{"x":1.35,"y":-0.058},{"x":1.35,"y":-0.07},
{"x":1.4,"y":0.094},{"x":1.4,"y":0.065},{"x":1.4,"y":0.04},{"x":1.4,"y":0.03},{"x":1.4,"y":0.02},{"x":1.4,"y":0.01},{"x":1.4,"y":0},{"x":1.4,"y":-0.01},{"x":1.4,"y":-0.025},{"x":1.4,"y":-0.04},{"x":1.4,"y":-0.05},{"x":1.4,"y":-0.082},{"x":1.4,"y":-0.095},{"x":1.4,"y":-0.133},{"x":1.4,"y":-0.146},{"x":1.4,"y":-0.164},
{"x":1.45,"y":0.125},{"x":1.45,"y":0.04},{"x":1.45,"y":0.03},{"x":1.45,"y":0.02},{"x":1.45,"y":0.01},{"x":1.45,"y":0},{"x":1.45,"y":-0.01},{"x":1.45,"y":-0.02},{"x":1.45,"y":-0.05},
{"x":1.5,"y":0.158},{"x":1.5,"y":0.135},{"x":1.5,"y":0.045},{"x":1.5,"y":0.035},{"x":1.5,"y":0.025},{"x":1.5,"y":0.015},{"x":1.5,"y":0.005},{"x":1.5,"y":-0.012},{"x":1.5,"y":-0.03},{"x":1.5,"y":-0.04},{"x":1.5,"y":-0.06},{"x":1.5,"y":-0.07},{"x":1.5,"y":-0.092},{"x":1.5,"y":-0.12},
{"x":1.55,"y":0.04},{"x":1.55,"y":0.03},{"x":1.55,"y":0.02},{"x":1.55,"y":0.01},{"x":1.55,"y":0},
{"x":1.6,"y":0.086},{"x":1.6,"y":0.06},{"x":1.6,"y":0.05},{"x":1.6,"y":0.04},{"x":1.6,"y":0.03},{"x":1.6,"y":0.02},{"x":1.6,"y":0.01},{"x":1.6,"y":0},{"x":1.6,"y":-0.01},{"x":1.6,"y":-0.02},{"x":1.6,"y":-0.03},{"x":1.6,"y":-0.04},{"x":1.6,"y":-0.077},{"x":1.6,"y":-0.09},{"x":1.6,"y":-0.122},
{"x":1.65,"y":0.09},{"x":1.65,"y":0.04},{"x":1.65,"y":0.03},{"x":1.65,"y":0.02},{"x":1.65,"y":0.01},{"x":1.65,"y":-0.005},{"x":1.65,"y":-0.018},{"x":1.65,"y":-0.033},{"x":1.65,"y":-0.05},{"x":1.65,"y":-0.062},
{"x":1.7,"y":0.085},{"x":1.7,"y":0.08},{"x":1.7,"y":0.06},{"x":1.7,"y":0.05},{"x":1.7,"y":0.04},{"x":1.7,"y":0.025},{"x":1.7,"y":0.015},{"x":1.7,"y":-0.005},{"x":1.7,"y":-0.032},{"x":1.7,"y":-0.062},{"x":1.7,"y":-0.09},
{"x":1.75,"y":0.06},{"x":1.75,"y":0.05},{"x":1.75,"y":0.04},{"x":1.75,"y":0.03},{"x":1.75,"y":-0.007},{"x":1.75,"y":-0.017},
{"x":1.8,"y":0.155},{"x":1.8,"y":0.11},{"x":1.8,"y":0.1},{"x":1.8,"y":0.09},{"x":1.8,"y":0.08},{"x":1.8,"y":0.07},{"x":1.8,"y":0.052},{"x":1.8,"y":0.045},{"x":1.8,"y":0.035},{"x":1.8,"y":0.028},{"x":1.8,"y":0.015},{"x":1.8,"y":0},{"x":1.8,"y":-0.02},{"x":1.8,"y":-0.03},{"x":1.8,"y":-0.04},{"x":1.8,"y":-0.045},{"x":1.8,"y":-0.07},
{"x":1.85,"y":0.102},{"x":1.85,"y":0.085},{"x":1.85,"y":0.047},{"x":1.85,"y":-0.047},
{"x":1.9,"y":0.137},{"x":1.9,"y":0.125},{"x":1.9,"y":0.1},{"x":1.9,"y":0.085},{"x":1.9,"y":0.062},{"x":1.9,"y":0.05},{"x":1.9,"y":0.04},{"x":1.9,"y":0.03},{"x":1.9,"y":-0.01},{"x":1.9,"y":-0.066},{"x":1.9,"y":-0.083},{"x":1.9,"y":-0.1},
{"x":1.95,"y":0.078},{"x":1.95,"y":0.075},{"x":1.95,"y":0.037},{"x":1.95,"y":0.007},{"x":1.95,"y":-0.203},{"x":2,"y":0.136},{"x":2,"y":0.092},{"x":2,"y":0.078},{"x":2,"y":0.027},{"x":2,"y":0},{"x":2,"y":-0.012},{"x":2,"y":-0.08},{"x":2.05,"y":0.188},{"x":2.05,"y":-0.025},
{"x":2.1,"y":0.125},{"x":2.1,"y":0.08},{"x":2.1,"y":0.045},{"x":2.1,"y":0.025},{"x":2.1,"y":0},{"x":2.1,"y":-0.023},{"x":2.1,"y":-0.035},{"x":2.1,"y":-0.04},{"x":2.1,"y":-0.062},{"x":2.1,"y":-0.07},{"x":2.15,"y":0.065},{"x":2.15,"y":0.05},{"x":2.15,"y":0.006},
{"x":2.2,"y":0.102},{"x":2.2,"y":0.083},{"x":2.2,"y":0.066},{"x":2.2,"y":0.038},{"x":2.2,"y":-0.03},{"x":2.2,"y":-0.035},{"x":2.2,"y":-0.045},{"x":2.2,"y":-0.113},{"x":2.25,"y":0.04},
{"x":2.3,"y":0.153},{"x":2.3,"y":0.043},{"x":2.3,"y":0.017},{"x":2.3,"y":0.012},{"x":2.3,"y":-0.056},{"x":2.3,"y":-0.088},{"x":2.35,"y":0.06},
{"x":2.4,"y":0.089},{"x":2.4,"y":0.075},{"x":2.4,"y":0.054},{"x":2.4,"y":0.028},{"x":2.4,"y":0.017},{"x":2.4,"y":-0.026},{"x":2.4,"y":-0.06},{"x":2.4,"y":-0.063},
{"x":2.45,"y":0.084},{"x":2.45,"y":0.063},{"x":2.45,"y":-0.146},{"x":2.5,"y":0.111},{"x":2.5,"y":0.097},{"x":2.5,"y":0.046},{"x":2.55,"y":-0.023},{"x":2.6,"y":0.079},{"x":2.6,"y":0.009},
{"x":2.7,"y":0.2},{"x":2.7,"y":0.127},{"x":2.7,"y":0.101},{"x":2.7,"y":0.06},{"x":2.7,"y":-0.05},{"x":2.75,"y":0.143},{"x":2.8,"y":0.156},{"x":2.8,"y":0.007},{"x":2.8,"y":-0.004},{"x":2.8,"y":-0.035},{"x":2.8,"y":-0.08},{"x":2.8,"y":-0.116},{"x":2.9,"y":0.037},{"x":2.9,"y":-0.003},{"x":2.9,"y":-0.029},{"x":3,"y":0.092},{"x":3,"y":0.045},{"x":3.05,"y":0.068},{"x":3.1,"y":0.108},{"x":3.1,"y":-0.118},{"x":3.15,"y":0.161},{"x":3.3,"y":0.248},{"x":3.4,"y":0.147}],
"rf":[{"x":0.04,"y":-0.002},{"x":0.05,"y":-0.008},{"x":0.05,"y":-0.014},{"x":0.06,"y":-0.004},{"x":0.07,"y":0.002},{"x":0.08,"y":0.005},{"x":0.09,"y":0},{"x":0.1,"y":0.005},{"x":0.1,"y":0.012},{"x":0.1,"y":0.015},{"x":0.12,"y":0.008},{"x":0.1,"y":-0.005},{"x":0.2,"y":0.016},{"x":0.25,"y":-0.024},{"x":0.3,"y":-0.005},{"x":0.3,"y":-0.027},{"x":0.3,"y":-0.043},{"x":0.35,"y":-0.005},{"x":0.35,"y":-0.012},{"x":0.35,"y":-0.02},
{"x":0.4,"y":0.012},{"x":0.4,"y":0.005},{"x":0.4,"y":-0.002},{"x":0.4,"y":-0.01},{"x":0.4,"y":-0.02},{"x":0.4,"y":-0.028},{"x":0.4,"y":-0.035},{"x":0.4,"y":-0.043},{"x":0.4,"y":-0.05},{"x":0.4,"y":-0.06},{"x":0.4,"y":-0.09},
{"x":0.45,"y":0.024},{"x":0.45,"y":0.003},{"x":0.45,"y":-0.005},{"x":0.45,"y":-0.012},{"x":0.45,"y":-0.02},{"x":0.45,"y":-0.035},{"x":0.45,"y":-0.05},
{"x":0.5,"y":0.009},{"x":0.5,"y":-0.012},{"x":0.5,"y":-0.025},{"x":0.5,"y":-0.055},{"x":0.5,"y":-0.102},{"x":0.55,"y":0.017},{"x":0.55,"y":-0.022},{"x":0.55,"y":-0.121},
{"x":0.6,"y":0.034},{"x":0.6,"y":0.012},{"x":0.6,"y":0.004},{"x":0.6,"y":-0.004},{"x":0.6,"y":-0.012},{"x":0.6,"y":-0.02},{"x":0.6,"y":-0.028},{"x":0.6,"y":-0.036},{"x":0.6,"y":-0.044},{"x":0.6,"y":-0.052},{"x":0.6,"y":-0.06},{"x":0.6,"y":-0.068},{"x":0.6,"y":-0.076},{"x":0.6,"y":-0.09},
{"x":0.65,"y":0.023},{"x":0.65,"y":0.013},{"x":0.65,"y":-0.005},{"x":0.65,"y":-0.04},{"x":0.65,"y":-0.052},{"x":0.65,"y":-0.063},{"x":0.65,"y":-0.094},
{"x":0.7,"y":0.045},{"x":0.7,"y":0.022},{"x":0.7,"y":0.012},{"x":0.7,"y":0},{"x":0.7,"y":-0.012},{"x":0.7,"y":-0.025},{"x":0.7,"y":-0.03},{"x":0.7,"y":-0.05},{"x":0.7,"y":-0.06},{"x":0.7,"y":-0.076},
{"x":0.75,"y":0.017},{"x":0.75,"y":0.005},{"x":0.75,"y":-0.005},{"x":0.75,"y":-0.015},{"x":0.75,"y":-0.025},{"x":0.75,"y":-0.04},{"x":0.75,"y":-0.05},{"x":0.75,"y":-0.06},{"x":0.75,"y":-0.07},{"x":0.75,"y":-0.08},
{"x":0.8,"y":0.04},{"x":0.8,"y":0.03},{"x":0.8,"y":0.02},{"x":0.8,"y":0.01},{"x":0.8,"y":0},{"x":0.8,"y":-0.01},{"x":0.8,"y":-0.02},{"x":0.8,"y":-0.03},{"x":0.8,"y":-0.045},{"x":0.8,"y":-0.057},{"x":0.8,"y":-0.077},{"x":0.8,"y":-0.087},{"x":0.8,"y":-0.094},
{"x":0.85,"y":0.063},{"x":0.85,"y":0.055},{"x":0.85,"y":0.03},{"x":0.85,"y":0.015},{"x":0.85,"y":0.005},{"x":0.85,"y":-0.005},{"x":0.85,"y":-0.015},{"x":0.85,"y":-0.025},{"x":0.85,"y":-0.037},{"x":0.85,"y":-0.05},{"x":0.85,"y":-0.075},
{"x":0.9,"y":0.088},{"x":0.9,"y":0.065},{"x":0.9,"y":0.04},{"x":0.9,"y":0.03},{"x":0.9,"y":0.02},{"x":0.9,"y":0.01},{"x":0.9,"y":0},{"x":0.9,"y":-0.01},{"x":0.9,"y":-0.02},{"x":0.9,"y":-0.03},{"x":0.9,"y":-0.04},{"x":0.9,"y":-0.05},{"x":0.9,"y":-0.06},{"x":0.9,"y":-0.075},{"x":0.9,"y":-0.083},
{"x":0.95,"y":0.045},{"x":0.95,"y":0.03},{"x":0.95,"y":0.015},{"x":0.95,"y":0.005},{"x":0.95,"y":-0.005},{"x":0.95,"y":-0.015},{"x":0.95,"y":-0.03},{"x":0.95,"y":-0.045},{"x":0.95,"y":-0.052},{"x":0.95,"y":-0.07},
{"x":1,"y":0.048},{"x":1,"y":0.03},{"x":1,"y":0.02},{"x":1,"y":0.01},{"x":1,"y":0},{"x":1,"y":-0.01},{"x":1,"y":-0.02},{"x":1,"y":-0.03},{"x":1,"y":-0.04},{"x":1,"y":-0.05},{"x":1,"y":-0.065},
{"x":1.05,"y":0.087},{"x":1.05,"y":0.043},{"x":1.05,"y":0.03},{"x":1.05,"y":0.02},{"x":1.05,"y":0.01},{"x":1.05,"y":0},{"x":1.05,"y":-0.01},{"x":1.05,"y":-0.02},{"x":1.05,"y":-0.03},{"x":1.05,"y":-0.04},{"x":1.05,"y":-0.05},{"x":1.05,"y":-0.07},{"x":1.05,"y":-0.08},
{"x":1.1,"y":0.146},{"x":1.1,"y":0.118},{"x":1.1,"y":0.035},{"x":1.1,"y":0.022},{"x":1.1,"y":0.012},{"x":1.1,"y":0},{"x":1.1,"y":-0.01},{"x":1.1,"y":-0.02},{"x":1.1,"y":-0.03},{"x":1.1,"y":-0.04},{"x":1.1,"y":-0.062},
{"x":1.15,"y":0.124},{"x":1.15,"y":0.063},{"x":1.15,"y":0.033},{"x":1.15,"y":0.02},{"x":1.15,"y":0.01},{"x":1.15,"y":0},{"x":1.15,"y":-0.01},{"x":1.15,"y":-0.02},{"x":1.15,"y":-0.078},{"x":1.15,"y":-0.126},
{"x":1.2,"y":0.109},{"x":1.2,"y":0.052},{"x":1.2,"y":0.037},{"x":1.2,"y":0.025},{"x":1.2,"y":0.015},{"x":1.2,"y":0.005},{"x":1.2,"y":-0.005},{"x":1.2,"y":-0.015},{"x":1.2,"y":-0.03},{"x":1.2,"y":-0.047},
{"x":1.25,"y":0.103},{"x":1.25,"y":0.05},{"x":1.25,"y":0.04},{"x":1.25,"y":0.03},{"x":1.25,"y":0.02},{"x":1.25,"y":0.01},{"x":1.25,"y":0},{"x":1.25,"y":-0.01},{"x":1.25,"y":-0.02},{"x":1.25,"y":-0.03},{"x":1.25,"y":-0.04},{"x":1.25,"y":-0.08},
{"x":1.3,"y":0.092},{"x":1.3,"y":0.085},{"x":1.3,"y":0.045},{"x":1.3,"y":0.035},{"x":1.3,"y":0.025},{"x":1.3,"y":0.015},{"x":1.3,"y":0.005},{"x":1.3,"y":-0.005},{"x":1.3,"y":-0.015},{"x":1.3,"y":-0.025},{"x":1.3,"y":-0.03},{"x":1.3,"y":-0.047},{"x":1.3,"y":-0.062},{"x":1.3,"y":-0.07},{"x":1.3,"y":-0.09},
{"x":1.35,"y":0.055},{"x":1.35,"y":0.03},{"x":1.35,"y":0.02},{"x":1.35,"y":0.01},{"x":1.35,"y":0},{"x":1.35,"y":-0.012},{"x":1.35,"y":-0.02},{"x":1.35,"y":-0.03},{"x":1.35,"y":-0.037},{"x":1.35,"y":-0.053},
{"x":1.4,"y":0.113},{"x":1.4,"y":0.083},{"x":1.4,"y":0.07},{"x":1.4,"y":0.06},{"x":1.4,"y":0.05},{"x":1.4,"y":0.04},{"x":1.4,"y":0.03},{"x":1.4,"y":0.02},{"x":1.4,"y":0.01},{"x":1.4,"y":0},{"x":1.4,"y":-0.01},{"x":1.4,"y":-0.02},{"x":1.4,"y":-0.03},{"x":1.4,"y":-0.04},{"x":1.4,"y":-0.047},{"x":1.4,"y":-0.09},{"x":1.4,"y":-0.112},{"x":1.4,"y":-0.155},
{"x":1.45,"y":0.095},{"x":1.45,"y":0.042},{"x":1.45,"y":0.03},{"x":1.45,"y":0.02},{"x":1.45,"y":0.01},{"x":1.45,"y":0},{"x":1.45,"y":-0.01},{"x":1.45,"y":-0.02},{"x":1.45,"y":-0.03},{"x":1.45,"y":-0.037},
{"x":1.5,"y":0.14},{"x":1.5,"y":0.113},{"x":1.5,"y":0.075},{"x":1.5,"y":0.056},{"x":1.5,"y":0.04},{"x":1.5,"y":0.03},{"x":1.5,"y":0.02},{"x":1.5,"y":0.01},{"x":1.5,"y":0},{"x":1.5,"y":-0.01},{"x":1.5,"y":-0.02},{"x":1.5,"y":-0.03},{"x":1.5,"y":-0.045},{"x":1.5,"y":-0.05},{"x":1.5,"y":-0.096},{"x":1.5,"y":-0.12},
{"x":1.55,"y":0.072},{"x":1.55,"y":0.035},{"x":1.55,"y":0.025},{"x":1.55,"y":0.015},{"x":1.55,"y":0.005},{"x":1.55,"y":-0.005},
{"x":1.6,"y":0.078},{"x":1.6,"y":0.055},{"x":1.6,"y":0.045},{"x":1.6,"y":0.03},{"x":1.6,"y":0.02},{"x":1.6,"y":0.01},{"x":1.6,"y":0},{"x":1.6,"y":-0.01},{"x":1.6,"y":-0.02},{"x":1.6,"y":-0.03},{"x":1.6,"y":-0.037},{"x":1.6,"y":-0.058},{"x":1.6,"y":-0.072},{"x":1.6,"y":-0.105},
{"x":1.65,"y":0.086},{"x":1.65,"y":0.037},{"x":1.65,"y":0.022},{"x":1.65,"y":0.012},{"x":1.65,"y":0.002},{"x":1.65,"y":-0.022},{"x":1.65,"y":-0.03},{"x":1.65,"y":-0.04},
{"x":1.7,"y":0.052},{"x":1.7,"y":0.045},{"x":1.7,"y":0.035},{"x":1.7,"y":0.025},{"x":1.7,"y":0.015},{"x":1.7,"y":0.005},{"x":1.7,"y":-0.005},{"x":1.7,"y":-0.012},{"x":1.7,"y":-0.025},{"x":1.7,"y":-0.034},{"x":1.7,"y":-0.065},
{"x":1.75,"y":0.04},{"x":1.75,"y":0.025},{"x":1.75,"y":0.007},{"x":1.75,"y":-0.005},
{"x":1.8,"y":0.09},{"x":1.8,"y":0.08},{"x":1.8,"y":0.07},{"x":1.8,"y":0.06},{"x":1.8,"y":0.05},{"x":1.8,"y":0.04},{"x":1.8,"y":0.03},{"x":1.8,"y":0.02},{"x":1.8,"y":0.01},{"x":1.8,"y":0},{"x":1.8,"y":-0.028},{"x":1.8,"y":-0.035},{"x":1.8,"y":-0.043},
{"x":1.85,"y":0.082},{"x":1.85,"y":0.069},{"x":1.85,"y":0.055},{"x":1.85,"y":0.05},{"x":1.85,"y":0.04},{"x":1.85,"y":-0.01},
{"x":1.9,"y":0.125},{"x":1.9,"y":0.112},{"x":1.9,"y":0.095},{"x":1.9,"y":0.04},{"x":1.9,"y":0.035},{"x":1.9,"y":0.02},{"x":1.9,"y":0.01},{"x":1.9,"y":0},{"x":1.9,"y":-0.04},{"x":1.9,"y":-0.06},
{"x":1.95,"y":0.056},{"x":1.95,"y":0.038},{"x":1.95,"y":0.008},{"x":1.95,"y":-0.115},{"x":2,"y":0.112},{"x":2,"y":0.105},{"x":2,"y":0.076},{"x":2,"y":0.036},{"x":2,"y":0.024},{"x":2,"y":-0.001},{"x":2,"y":-0.01},{"x":2,"y":-0.02},{"x":2.05,"y":0.112},{"x":2.05,"y":-0.008},
{"x":2.1,"y":0.072},{"x":2.1,"y":0.042},{"x":2.1,"y":0.035},{"x":2.1,"y":0.01},{"x":2.1,"y":0},{"x":2.1,"y":-0.008},{"x":2.1,"y":-0.034},{"x":2.1,"y":-0.062},{"x":2.1,"y":-0.114},{"x":2.15,"y":0.04},{"x":2.15,"y":0.019},
{"x":2.2,"y":0.06},{"x":2.2,"y":0.042},{"x":2.2,"y":0.031},{"x":2.2,"y":0.007},{"x":2.2,"y":-0.021},{"x":2.2,"y":-0.116},{"x":2.25,"y":0.026},
{"x":2.3,"y":0.116},{"x":2.3,"y":0.012},{"x":2.3,"y":0.006},{"x":2.3,"y":-0.008},{"x":2.3,"y":-0.032},{"x":2.3,"y":-0.044},{"x":2.35,"y":0.059},
{"x":2.4,"y":0.07},{"x":2.4,"y":0.063},{"x":2.4,"y":0.042},{"x":2.4,"y":0.023},{"x":2.4,"y":0.009},{"x":2.4,"y":0.002},{"x":2.4,"y":-0.006},{"x":2.4,"y":-0.016},{"x":2.4,"y":-0.07},
{"x":2.45,"y":0.043},{"x":2.45,"y":0.03},{"x":2.45,"y":-0.065},{"x":2.5,"y":0.092},{"x":2.5,"y":0.077},{"x":2.5,"y":0.035},{"x":2.55,"y":-0.023},{"x":2.6,"y":0.055},{"x":2.6,"y":0.01},
{"x":2.7,"y":0.124},{"x":2.7,"y":0.113},{"x":2.7,"y":0.053},{"x":2.7,"y":0.037},{"x":2.7,"y":-0.016},{"x":2.75,"y":0.13},{"x":2.8,"y":0.099},{"x":2.8,"y":0.078},{"x":2.8,"y":-0.003},{"x":2.8,"y":-0.008},{"x":2.8,"y":-0.078},{"x":2.8,"y":-0.083},{"x":2.9,"y":0.009},{"x":2.9,"y":-0.002},{"x":3,"y":0.062},{"x":3,"y":0.05},{"x":3.05,"y":-0.004},{"x":3.1,"y":0.061},{"x":3.1,"y":-0.1},{"x":3.15,"y":0.12},{"x":3.3,"y":0.107},{"x":3.4,"y":0.122}]},
"hconcat":[{"vconcat":[{"title":"training set - Mutual Information","width":1389,"height":697,"view":{"stroke":null},"data":{"name":"mi"},"mark":{"type":"circle","size":140,"color":"#1696DB","opacity":1},"encoding":{"x":{"field":"x","type":"quantitative","scale":{"domain":[0,4]},"axis":{"values":[0,0.5,1,1.5,2,2.5,3,3.5,4],"domain":false,"offset":-348.5,"labelPadding":35,"gridColor":{"condition":{"test":"datum.value==0||datum.value==4","value":"#ffffff"},"value":"#e6e6e6"}}},"y":{"field":"y","type":"quantitative","scale":{"domain":[-0.3,0.3]},"axis":{"values":[-0.3,-0.2,-0.1,0,0.1,0.2,0.3],"labelPadding":46,"domain":false,"minExtent":115,"gridColor":{"condition":{"test":"datum.value==-0.3","value":"#dcdcdc"},"value":"#f2f2f2"}}}}},{"title":{"text":"training set - LASSO","dx":-40},"width":1387,"height":718,"view":{"stroke":null},"layer":[{"data":{"name":"levels"},"mark":{"type":"rule","strokeWidth":2},"encoding":{"x":{"datum":0,"type":"quantitative","scale":{"domain":[0,4],"range":[9,1387]},"axis":{"values":[0,0.5,1,1.5,2,2.5,3,3.5,4],"grid":true,"domain":true,"domainColor":"#c8c8c8","domainWidth":3,"offset":-359,"labelPadding":43,"gridColor":{"condition":{"test":"datum.value==0||datum.value==4","value":"#d8d8d8"},"value":"#e8e8e8"}}},"x2":{"datum":4},"y":{"field":"y","type":"quantitative","scale":{"domain":[-0.3,0.3]},"axis":{"values":[-0.3,-0.2,-0.1,0,0.1,0.2,0.3],"labelPadding":46,"domain":false,"grid":false,"offset":-9,"minExtent":124}},"color":{"condition":{"test":"abs(datum.y)==0.3","value":"#dcdcdc"},"value":"#eeeeee"}}},{"data":{"name":"lasso"},"mark":{"type":"circle","size":140,"color":"#1696DB","opacity":1},"encoding":{"x":{"field":"x","type":"quantitative"},"y":{"field":"y","type":"quantitative"}}}]}],"spacing":74},{"vconcat":[{"title":"training set - RFE","width":1377,"height":718,"view":{"stroke":null},"data":{"name":"rfe"},"mark":{"type":"circle","size":140,"color":"#1696DB","opacity":1},"encoding":{"x":{"field":"x","type":"quantitative","scale":{"domain":[0,4]},"axis":{"values":[0,0.5,1,1.5,2,2.5,3,3.5,4],"domain":true,"domainColor":"#c8c8c8","domainWidth":3,"offset":-359,"labelPadding":45,"gridColor":{"condition":{"test":"datum.value==0","value":"#ffffff"},"value":"#e6e6e6"}}},"y":{"field":"y","type":"quantitative","scale":{"domain":[-0.3,0.3]},"axis":{"values":[-0.3,-0.2,-0.1,0,0.1,0.2,0.3],"labelPadding":46,"domain":false,"minExtent":115}}}},{"title":"training set - random forest","width":1377,"height":718,"view":{"stroke":null},"data":{"name":"rf"},"mark":{"type":"circle","size":140,"color":"#1696DB","opacity":1},"encoding":{"x":{"field":"x","type":"quantitative","scale":{"domain":[0,4]},"axis":{"values":[0,0.5,1,1.5,2,2.5,3,3.5,4],"domain":true,"domainColor":"#c8c8c8","domainWidth":3,"offset":-359,"labelPadding":43,"gridColor":{"condition":{"test":"datum.value==0","value":"#ffffff"},"value":"#e6e6e6"}}},"y":{"field":"y","type":"quantitative","scale":{"domain":[-0.3,0.3]},"axis":{"values":[-0.3,-0.2,-0.1,0,0.1,0.2,0.3],"labelPadding":46,"domain":false,"minExtent":115,"gridColor":"#f0f0f0"}}}}],"spacing":53.5}]}
